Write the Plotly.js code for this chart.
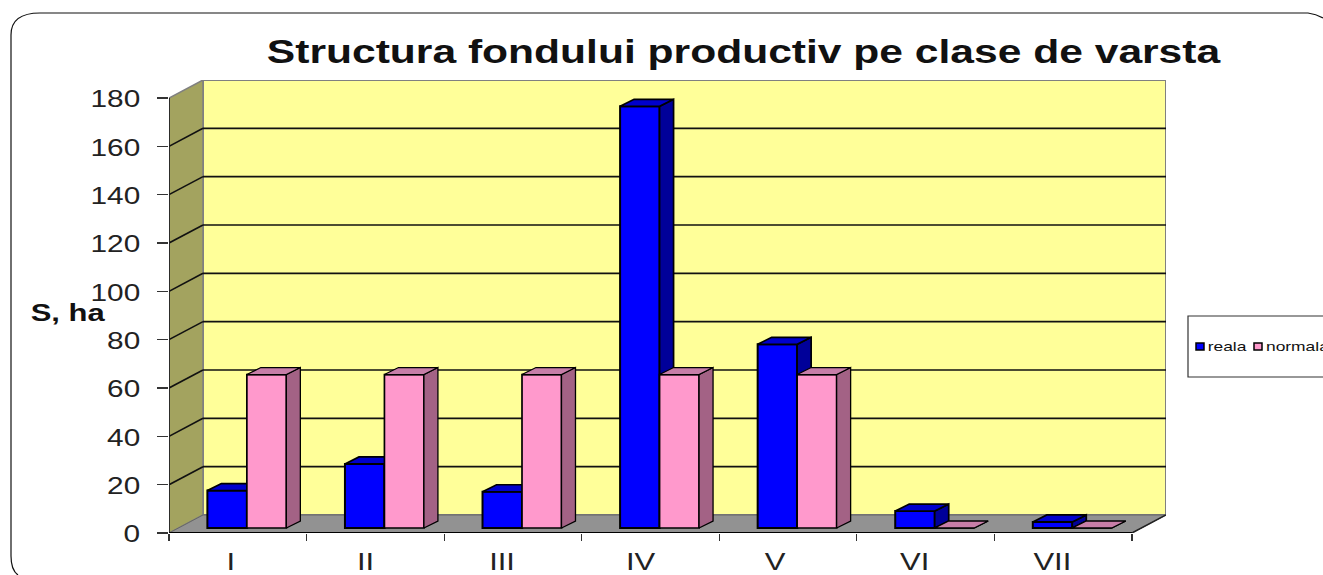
<!DOCTYPE html>
<html><head><meta charset="utf-8">
<script src="https://cdn.plot.ly/plotly-3.0.1.min.js"></script>
<style>html,body{margin:0;padding:0;background:#fff;overflow:hidden}#c{width:1323px;height:575px}</style>
</head><body><div id="c"></div>
<script>
const categories = ['I','II','III','IV','V','VI','VII'];
const reala = [15.5, 26.5, 15, 174.5, 76, 7, 2.5];
const normala = [63.5, 63.5, 63.5, 63.5, 63.5, 0, 0];
const yTicks = [0,20,40,60,80,100,120,140,160,180];
const seriesNames = ['reala','normala'];
const labelNudgePx = [0,-3,-4,-3,-6,-4,-4];

const W=1323,H=575,L=169,R=1166,T=80,B=533;
const catW=137.57, unitH=2.4167;
const xMax=(R-L)/catW, yMax=(B-T)/unitH;
const wallDx=(1166-1132)/catW, wallDy=18/unitH;
const barDx=14/catW, barDy=7/unitH, barBase=5/unitH;
const barW=0.287, offA=0.279, offB=0.566;
const textStretch=1.29, tickStretch=1.24;
const px=v=>(v-L)/(R-L), py=v=>(B-v)/(B-T);

function faces(vals,off){
  const sx=[],sy=[],tx=[],ty=[];
  vals.forEach((v,i)=>{
    const a=i+off,b=a+barW,t=barBase+v;
    sx.push(b,b+barDx,b+barDx,b,b,null);
    sy.push(barBase,barBase+barDy,t+barDy,t,barBase,null);
    tx.push(a,a+barDx,b+barDx,b,a,null);
    ty.push(t,t+barDy,t+barDy,t,t,null);
  });
  return {sx,sy,tx,ty};
}
function series(vals,off,name,front,side,top,xa,ya,lw,blw){
  const f=faces(vals,off);
  const ln={color:'#000',width:lw};
  return [
   {type:'bar',name:name,x:categories.map((c,i)=>i),y:vals,base:barBase,offset:off,width:barW,
    marker:{color:front,line:{color:'#000',width:blw}},xaxis:xa,yaxis:ya,hoverinfo:'skip'},
   {type:'scatter',mode:'lines',x:f.sx,y:f.sy,fill:'toself',fillcolor:side,line:ln,xaxis:xa,yaxis:ya,hoverinfo:'skip',showlegend:false},
   {type:'scatter',mode:'lines',x:f.tx,y:f.ty,fill:'toself',fillcolor:top,line:ln,xaxis:xa,yaxis:ya,hoverinfo:'skip',showlegend:false}
  ];
}
const data=[...series(reala,offA,seriesNames[0],'#0000ff','#000099','#0000cc','x','y',1.7,2),
            ...series(normala,offB,seriesNames[1],'#ff99cc','#a36285','#c77ea8','x2','y2',1.3,1.7)];

const poly=(pts)=>'M'+pts.map(p=>p.join(',')).join('L')+'Z';
const shapes=[
 {type:'path',layer:'below',xref:'x',yref:'y',path:poly([[wallDx,wallDy],[wallDx,yMax],[xMax,yMax],[xMax,wallDy]]),fillcolor:'#ffff99',line:{color:'#808080',width:2}},
 {type:'path',layer:'below',xref:'x',yref:'y',path:poly([[0,0],[wallDx,wallDy],[wallDx,yMax],[0,180]]),fillcolor:'#a3a35f',line:{color:'#808080',width:1.5}},
 {type:'path',layer:'below',xref:'x',yref:'y',path:poly([[0,0],[7,0],[xMax,wallDy],[wallDx,wallDy]]),fillcolor:'#929292',line:{color:'#666',width:1}}
];
yTicks.filter(v=>v>0&&v<180).forEach(v=>{
 shapes.push({type:'line',layer:'below',xref:'x',yref:'y',x0:0,y0:v,x1:wallDx,y1:v+wallDy,line:{color:'#111',width:1.6}});
 shapes.push({type:'line',layer:'below',xref:'x',yref:'y',x0:wallDx,y0:v+wallDy,x1:xMax,y1:v+wallDy,line:{color:'#111',width:1.6}});
});
shapes.push({type:'line',layer:'below',xref:'x',yref:'y',x0:0,y0:0,x1:0,y1:180,line:{color:'#222',width:1.8}});
shapes.push({type:'line',layer:'below',xref:'x',yref:'y',x0:0,y0:0,x1:7,y1:0,line:{color:'#000',width:2}});
shapes.push({type:'line',layer:'below',xref:'x',yref:'y',x0:7,y0:0,x1:xMax,y1:wallDy,line:{color:'#222',width:1.5}});
shapes.push({type:'path',layer:'below',xref:'paper',yref:'paper',line:{color:'#111',width:1.2},
 path:`M${px(18)},${py(575)}Q${px(11)},${py(570)} ${px(11)},${py(556)}L${px(11)},${py(35)}Q${px(11)},${py(13)} ${px(40)},${py(13)}L${px(1308)},${py(13)}Q${px(1316)},${py(14)} ${px(1323)},${py(18)}`});
shapes.push({type:'rect',xref:'paper',yref:'paper',x0:px(1188),x1:px(1330),y0:py(377),y1:py(316),line:{color:'#333',width:1.2},fillcolor:'#fff'});
shapes.push({type:'rect',xref:'paper',yref:'paper',x0:px(1196),x1:px(1204),y0:py(350),y1:py(343),line:{color:'#000',width:1.5},fillcolor:'#0000ff'});
shapes.push({type:'rect',xref:'paper',yref:'paper',x0:px(1254),x1:px(1262),y0:py(350),y1:py(343),line:{color:'#000',width:1.5},fillcolor:'#ff99cc'});

const FONT='"Liberation Sans", Arial, sans-serif';
const ann=(text,x,y,size,bold)=>({text:text,xref:'paper',yref:'paper',x:px(x),y:py(y),xanchor:'center',yanchor:'middle',showarrow:false,font:{family:FONT,size:size,color:'#111',weight:bold?700:400}});
const layout={
 width:W,height:H,paper_bgcolor:'#fff',plot_bgcolor:'rgba(0,0,0,0)',showlegend:false,hovermode:false,
 margin:{l:L,r:W-R,t:T,b:H-B,pad:0,autoexpand:false},
 barmode:'overlay',font:{family:FONT,color:'#222'},
 xaxis:{range:[0,xMax],tickmode:'array',tickvals:[0,1,2,3,4,5,6,7],ticktext:['','','','','','','',''],ticks:'outside',ticklen:7,tickwidth:1.2,tickcolor:'#333',showgrid:false,zeroline:false,showline:false,fixedrange:true},
 yaxis:{range:[0,yMax],tickmode:'array',tickvals:yTicks,ticks:'outside',ticklen:11,tickwidth:1.3,tickcolor:'#333',ticklabelstandoff:12,showgrid:false,zeroline:false,showline:false,tickfont:{size:24,color:'#222'},fixedrange:true},
 xaxis2:{range:[0,xMax],overlaying:'x',anchor:'y2',side:'bottom',tickmode:'array',tickvals:categories.map((c,i)=>i+0.45+labelNudgePx[i]/catW),ticktext:categories,ticks:'',ticklabelstandoff:12,showgrid:false,zeroline:false,showline:false,tickfont:{size:24,color:'#222'},fixedrange:true},
 yaxis2:{range:[0,yMax],overlaying:'y',visible:false,fixedrange:true},
 shapes:shapes,
 annotations:[
  ann('Structura fondului productiv pe clase de varsta',744,52,33,true),
  ann('S, ha',67.5,312,24,true),
  ann(seriesNames[0],1227.5,346,13.5,false),
  ann(seriesNames[1],1297.5,346,13.5,false)
 ]
};
Plotly.newPlot('c',data,layout,{displayModeBar:false,staticPlot:true}).then(gd=>{
  // the reference's lettering is wider than any installed face: widen the real text in place
  gd.querySelectorAll('svg text').forEach(t=>{
    const n=t.getComputedTextLength();
    if(n>0){
      const isTick=t.closest('.xaxislayer-above, .yaxislayer-above')!==null;
      t.setAttribute('textLength',(n*(isTick?tickStretch:textStretch)).toFixed(1));
      t.setAttribute('lengthAdjust','spacingAndGlyphs');
      if(t.closest('.ytick')) t.setAttribute('dy','1');
    }
  });
});
</script></body></html>
